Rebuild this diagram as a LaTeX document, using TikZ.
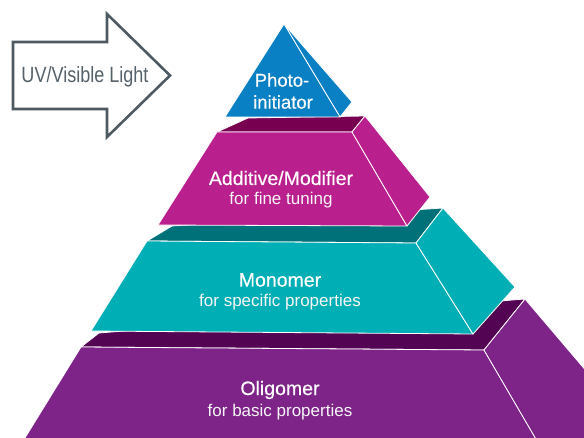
\documentclass[tikz,border=0pt]{standalone}
\usepackage{fontspec}
\setmainfont{Liberation Sans}
\newfontfamily\medfont[FakeBold=0.35]{Liberation Sans}
\definecolor{photoblue}{HTML}{0A80C4}
\definecolor{addmag}{HTML}{BA1F8E}
\definecolor{addtop}{HTML}{770050}
\definecolor{monteal}{HTML}{00AEB5}
\definecolor{montop}{HTML}{007178}
\definecolor{oligpur}{HTML}{7E2489}
\definecolor{oligtop}{HTML}{530553}
\definecolor{arrowgray}{HTML}{4D5A61}
\definecolor{textgray}{HTML}{56626A}
\tikzset{
  face/.style={draw=white, line width=0.8pt, line join=round},
  title/.style={text=white, font=\medfont\fontsize{19.5}{21}\selectfont, inner sep=0pt},
  phototitle/.style={text=white, font=\medfont\fontsize{18.5}{20}\selectfont, inner sep=0pt},
  subtitle/.style={text=white!92!gray, font=\fontsize{17}{19}\selectfont, inner sep=0pt},
}
\begin{document}
\begin{tikzpicture}[x=1pt,y=-1pt]
\useasboundingbox (0,0) rectangle (584,438);
\clip (0,0) rectangle (584,438);
% arrow
\draw[arrowgray, line width=2.6pt, fill=white, line join=miter]
  (13,42) -- (107,42) -- (107,14) -- (170,75.5) -- (107,137) -- (107,109) -- (13,109) -- cycle;
\node[text=textgray, inner sep=0pt] (uv) at (85,77)
  {\scalebox{0.82}[1]{\fontsize{22}{24}\selectfont UV/Visible Light}};
% Oligomer
\fill[oligtop, face] (81,347) -- (99,333) -- (525,299) -- (484,350) -- cycle;
\fill[oligpur, face] (81,347) -- (484,350) -- (540,446) -- (20,446) -- cycle;
\fill[oligpur, face] (484,350) -- (525,299) -- (650,446) -- (540,446) -- cycle;
% Monomer
\fill[montop, face] (147,241) -- (172,226) -- (443,208) -- (416,243) -- cycle;
\fill[monteal, face] (147,241) -- (416,243) -- (473,334) -- (91,331) -- cycle;
\fill[monteal, face] (416,243) -- (443,208) -- (515,287) -- (473,334) -- cycle;
% Additive
\fill[addtop, face] (217,132) -- (248,118) -- (365,116) -- (352,132) -- cycle;
\fill[addmag, face] (217,132) -- (352,132) -- (407,226) -- (158,225) -- cycle;
\fill[addmag, face] (352,132) -- (365,116) -- (430,197) -- (407,226) -- cycle;
% Photoinitiator
\fill[photoblue, face] (284,24) -- (352,102) -- (340,117) -- cycle;
\fill[photoblue, face] (284,24) -- (340,117) -- (225,117) -- cycle;
% labels
\node[phototitle] (photo1) at (282,80) {Photo-};
\node[phototitle] (photo2) at (283,102) {initiator};
\node[title] (add) at (281,178) {Additive/Modifier};
\node[subtitle] (addsub) at (281,200) {for fine tuning};
\node[title] (mon) at (280,280) {Monomer};
\node[subtitle] (monsub) at (280,302) {for specific properties};
\node[title] (olig) at (280,390) {Oligomer};
\node[subtitle] (oligsub) at (280,412) {for basic properties};
\end{tikzpicture}
\end{document}
